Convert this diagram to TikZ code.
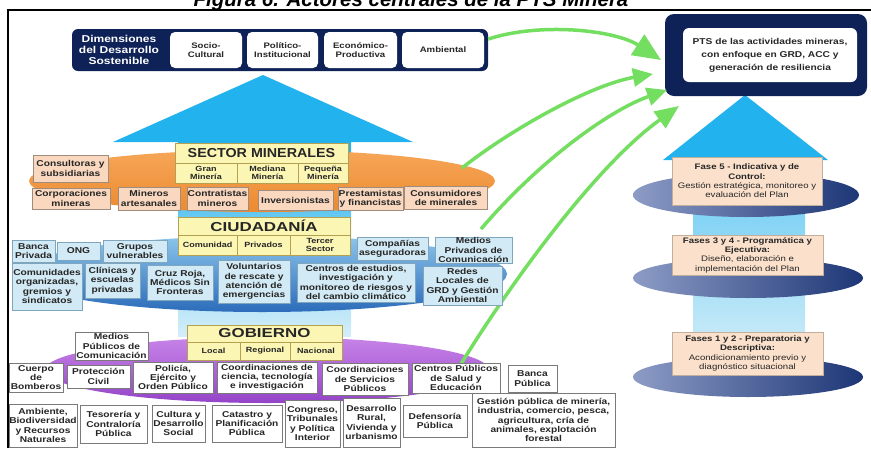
\documentclass[tikz,border=0pt]{standalone}
\usepackage{fontspec}
\setmainfont{Liberation Sans}
\newfontfamily\lbl[FakeStretch=1.2]{Liberation Sans}
\newfontfamily\ttlA[FakeStretch=1.1]{Liberation Sans}
\newfontfamily\ttlB[FakeStretch=1.3]{Liberation Sans}
\usetikzlibrary{arrows.meta,shapes.geometric}
\definecolor{navy}{HTML}{0E2258}
\definecolor{sky}{HTML}{22B2EE}
\definecolor{skyl}{HTML}{D4EEF9}
\definecolor{minfill}{HTML}{FAD8BF}
\definecolor{minbd}{HTML}{A08C7C}
\definecolor{ciufill}{HTML}{D2EAF5}
\definecolor{ciubd}{HTML}{7FA6BC}
\definecolor{gobbd}{HTML}{7A7A7A}
\definecolor{hdfill}{HTML}{FBF6B4}
\definecolor{hdbd}{HTML}{B4A050}
\definecolor{fasefill}{HTML}{FBE1CC}
\definecolor{fasebd}{HTML}{C0AE9E}
\definecolor{ornA}{HTML}{F6A658}
\definecolor{ornB}{HTML}{EC8A30}
\definecolor{bluA}{HTML}{8CC6EC}
\definecolor{bluB}{HTML}{2C6CBA}
\definecolor{purA}{HTML}{C884E8}
\definecolor{purB}{HTML}{9444C8}
\definecolor{nvA}{HTML}{8D9CC6}
\definecolor{nvB}{HTML}{1D3676}
\definecolor{grn}{HTML}{74DE60}
\definecolor{txt}{HTML}{262626}
\begin{document}
\begin{tikzpicture}[x=1pt,y=-1pt,
	every node/.style={inner sep=0.5pt,align=center,text=txt,font=\lbl\bfseries\fontsize{8.5}{9.3}\selectfont},
	minbox/.style={draw=minbd,fill=minfill,line width=0.5pt},
	ciubox/.style={draw=ciubd,fill=ciufill,line width=0.5pt},
	gobbox/.style={draw=gobbd,fill=white,line width=0.5pt},
	hdbox/.style={draw=hdbd,fill=hdfill,line width=0.5pt},
	subbox/.style={hdbox,minimum height=20,font=\lbl\bfseries\fontsize{7.5}{8.5}\selectfont},
	dimbox/.style={fill=white,rounded corners=5pt,minimum height=36,font=\lbl\bfseries\fontsize{8}{9.3}\selectfont},
	fasebox/.style={draw=fasebd,fill=fasefill,line width=0.5pt,font=\lbl\fontsize{8}{9.4}\selectfont},
	garrow/.style={draw=grn,line width=3.5pt,-{Triangle[width=18pt,length=20pt]}}]
	\useasboundingbox (0,0) rectangle (871,448);
	\node[anchor=base,text=black,font=\bfseries\itshape\fontsize{20.5}{22}\selectfont] (ttl) at (411,6) {Figura 6. Actores centrales de la PTS Minera};
	\draw[line width=1.5pt] (8,448) -- (8,10) -- (871,10);
	\fill[sky] (263,75) -- (413,142) -- (113,142) -- cycle;
	\shade[top color=sky,bottom color=skyl] (178,142) rectangle (351,336);
	\fill[sky] (745,95) -- (828,160) -- (663,160) -- cycle;
	\shade[top color=sky!70,bottom color=skyl] (693,160) rectangle (805,362);
	\node[ellipse,minimum width=226,minimum height=44,left color=nvA,right color=nvB] (e5) at (746,195) {};
	\node[ellipse,minimum width=230,minimum height=40,left color=nvA,right color=nvB] (e34) at (748,278) {};
	\node[ellipse,minimum width=230,minimum height=40,left color=nvA,right color=nvB] (e12) at (748,377) {};
	\node[ellipse,minimum width=466,minimum height=62,top color=ornA,bottom color=ornB] (minell) at (262,181) {};
	\node[ellipse,minimum width=490,minimum height=76,top color=bluA,bottom color=bluB] (ciuell) at (262,274) {};
	\node[ellipse,minimum width=444,minimum height=66,top color=purA,bottom color=purB] (gobell) at (267,370) {};
	\node[fill=navy,rounded corners=6pt,minimum width=416,minimum height=42] (dimbar) at (280,50) {};
	\node[text=white,font=\lbl\bfseries\fontsize{10}{10.7}\selectfont] (dim) at (119,50) {Dimensiones\\del Desarrollo\\Sostenible};
	\node[dimbox,minimum width=72] (soc) at (206,50) {Socio-\\Cultural};
	\node[dimbox,minimum width=71] (pol) at (282.5,50) {Político-\\Institucional};
	\node[dimbox,minimum width=73] (eco) at (360.5,50) {Económico-\\Productiva};
	\node[dimbox,minimum width=82] (amb) at (443,50) {Ambiental};
	\node[fill=navy,rounded corners=9pt,minimum width=202,minimum height=82] (ptsbar) at (766,55) {};
	\node[fill=white,rounded corners=6pt,minimum width=174,minimum height=54,font=\lbl\bfseries\fontsize{8.5}{13}\selectfont] (pts) at (770,55) {PTS de las actividades mineras,\\con enfoque en GRD, ACC y\\generación de resiliencia};
	\coordinate (s2) at (462,168);
	\coordinate (s3) at (481,229);
	\coordinate (s4) at (461,364);
	\coordinate (t1) at (661,60);
	\coordinate (t2) at (653,74);
	\coordinate (t3) at (667,90);
	\coordinate (t4) at (679,106);
	\draw[garrow,-{Triangle[width=24pt,length=28pt]}] (dimbar.3) .. controls (540,22) and (615,30) .. (t1);
	\draw[garrow] (s2) .. controls (510,130) and (590,85) .. (t2);
	\draw[garrow] (s3) .. controls (540,160) and (610,110) .. (t3);
	\draw[garrow,-{Triangle[width=20pt,length=24pt]}] (s4) .. controls (500,300) and (590,170) .. (t4);
	\node[fasebox,minimum width=150,minimum height=48] (f5) at (747,181) {\textbf{Fase 5 - Indicativa y de}\\\textbf{Control:}\\Gestión estratégica, monitoreo y\\evaluación del Plan};
	\node[fasebox,minimum width=151,minimum height=40] (f34) at (747.5,255) {\textbf{Fases 3 y 4 - Programática y}\\\textbf{Ejecutiva:}\\Diseño, elaboración e\\implementación del Plan};
	\node[fasebox,minimum width=151,minimum height=43] (f12) at (747.5,353.5) {\textbf{Fases 1 y 2 - Preparatoria y}\\\textbf{Descriptiva:}\\Acondicionamiento previo y\\diagnóstico situacional};
	\node[hdbox,minimum width=173,minimum height=20,font=\ttlA\bfseries\fontsize{13}{14}\selectfont] (sec) at (261.5,153) {SECTOR MINERALES};
	\node[subbox,minimum width=62] (gran) at (206,173) {Gran\\Minería};
	\node[subbox,minimum width=61] (med) at (267.5,173) {Mediana\\Minería};
	\node[subbox,minimum width=50] (peq) at (323,173) {Pequeña\\Minería};
	\node[minbox,minimum width=75,minimum height=27] (cons) at (70.5,168.5) {Consultoras y\\subsidiarias};
	\node[minbox,minimum width=78,minimum height=21] (corp) at (71,198.5) {Corporaciones\\mineras};
	\node[minbox,minimum width=62,minimum height=23] (art) at (149,198.5) {Mineros\\artesanales};
	\node[minbox,minimum width=61,minimum height=23] (contr) at (217.5,198.5) {Contratistas\\mineros};
	\node[minbox,minimum width=75,minimum height=20] (inv) at (295.5,200) {Inversionistas};
	\node[minbox,minimum width=65,minimum height=23] (prest) at (370.5,198.5) {Prestamistas\\y financistas};
	\node[minbox,minimum width=83,minimum height=23] (consum) at (446,198) {Consumidores\\de minerales};
	\node[hdbox,minimum width=172,minimum height=18,font=\ttlB\bfseries\fontsize{13}{14}\selectfont] (ciu) at (264,226) {CIUDADANÍA};
	\node[subbox,minimum width=59] (comu) at (207.5,245) {Comunidad};
	\node[subbox,minimum width=53] (priv) at (263.5,245) {Privados};
	\node[subbox,minimum width=60] (terc) at (320,245) {Tercer\\Sector};
	\node[ciubox,minimum width=43,minimum height=22] (banca) at (33.5,251) {Banca\\Privada};
	\node[ciubox,minimum width=43,minimum height=18] (ong) at (78.5,251) {ONG};
	\node[ciubox,minimum width=64,minimum height=22] (grup) at (135,251) {Grupos\\vulnerables};
	\node[ciubox,minimum width=71,minimum height=23] (comp) at (392.5,248.5) {Compañías\\aseguradoras};
	\node[ciubox,minimum width=77,minimum height=26] (mpriv) at (473.5,250) {Medios\\Privados de\\Comunicación};
	\node[ciubox,minimum width=70,minimum height=47] (orgs) at (47,286.5) {Comunidades\\organizadas,\\gremios y\\sindicatos};
	\node[ciubox,minimum width=55,minimum height=35] (clin) at (112.5,280.5) {Clínicas y\\escuelas\\privadas};
	\node[ciubox,minimum width=66,minimum height=35] (cruz) at (180,282.5) {Cruz Roja,\\Médicos Sin\\Fronteras};
	\node[ciubox,minimum width=72,minimum height=43] (volu) at (254,281.5) {Voluntarios\\de rescate y\\atención de\\emergencias};
	\node[ciubox,minimum width=118,minimum height=39] (cent) at (356,282.5) {Centros de estudios,\\investigación y\\monitoreo de riesgos y\\del cambio climático};
	\node[ciubox,minimum width=79,minimum height=39] (redes) at (462.5,285.5) {Redes\\Locales de\\GRD y Gestión\\Ambiental};
	\node[hdbox,minimum width=155,minimum height=17,font=\ttlB\bfseries\fontsize{13}{14}\selectfont] (gob) at (264.5,333.5) {GOBIERNO};
	\node[subbox,minimum width=53,minimum height=18] (loc) at (213.5,351) {Local};
	\node[subbox,minimum width=50,minimum height=18] (reg) at (265,351) {Regional};
	\node[subbox,minimum width=52,minimum height=18] (nac) at (316,351) {Nacional};
	\node[gobbox,minimum width=73,minimum height=28] (mpub) at (111.5,346) {Medios\\Públicos de\\Comunicación};
	\node[gobbox,minimum width=54,minimum height=29] (bomb) at (36,377.5) {Cuerpo\\de\\Bomberos};
	\node[gobbox,minimum width=63,minimum height=23] (prot) at (98.5,376.5) {Protección\\Civil};
	\node[gobbox,minimum width=80,minimum height=31] (poli) at (173,377.5) {Policía,\\Ejército y\\Orden Público};
	\node[gobbox,minimum width=100,minimum height=31] (coci) at (267,377.5) {Coordinaciones de\\ciencia, tecnología\\e investigación};
	\node[gobbox,minimum width=86,minimum height=32] (cose) at (365,379) {Coordinaciones\\de Servicios\\Públicos};
	\node[gobbox,minimum width=88,minimum height=30] (cesa) at (456,378) {Centros Públicos\\de Salud y\\Educación};
	\node[gobbox,minimum width=49,minimum height=27] (bpub) at (532.5,378.5) {Banca\\Pública};
	\node[gobbox,minimum width=68,minimum height=43] (ambi) at (43,425.5) {Ambiente,\\Biodiversidad\\y Recursos\\Naturales};
	\node[gobbox,minimum width=67,minimum height=38] (teso) at (113.5,424) {Tesorería y\\Contraloría\\Pública};
	\node[gobbox,minimum width=53,minimum height=37] (cult) at (178.5,423.5) {Cultura y\\Desarrollo\\Social};
	\node[gobbox,minimum width=70,minimum height=37] (cata) at (247,423.5) {Catastro y\\Planificación\\Pública};
	\node[gobbox,minimum width=55,minimum height=47] (cong) at (312.5,423.5) {Congreso,\\Tribunales\\y Política\\Interior};
	\node[gobbox,minimum width=57,minimum height=49] (desa) at (371.5,422.5) {Desarrollo\\Rural,\\Vivienda y\\urbanismo};
	\node[gobbox,minimum width=64,minimum height=32] (defe) at (435,421) {Defensoría\\Pública};
	\node[gobbox,minimum width=143,minimum height=54] (gest) at (543.5,420) {Gestión pública de minería,\\industria, comercio, pesca,\\agricultura, cría de\\animales, explotación\\forestal};
\end{tikzpicture}
\end{document}
